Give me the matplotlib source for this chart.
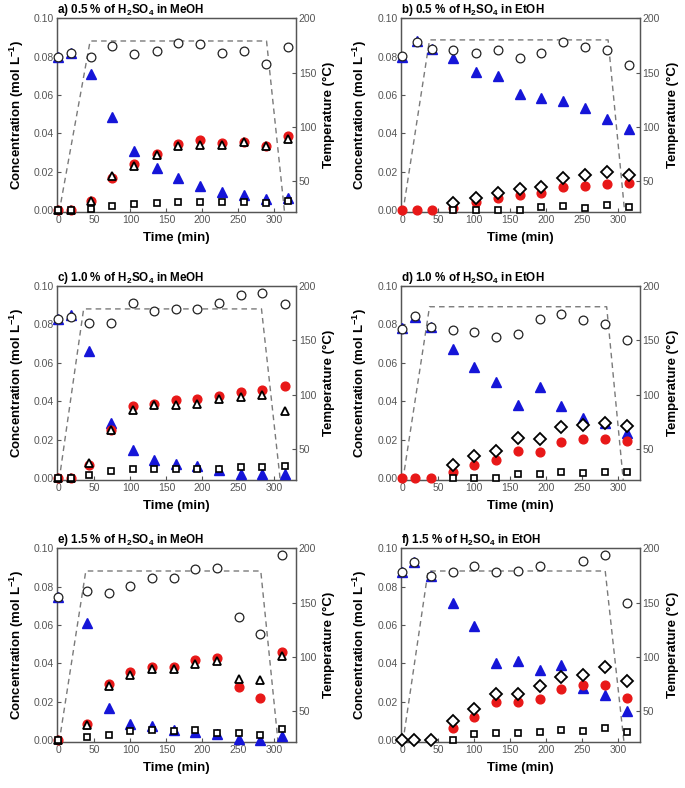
import numpy as np
import matplotlib
matplotlib.use("Agg")
import matplotlib.pyplot as plt

plt.rcParams['font.family'] = ['Liberation Sans', 'DejaVu Sans']

nan = np.nan

# panel a) 0.5 % H2SO4 in MeOH
t_a = [0, 17, 45, 75, 105, 137, 166, 197, 227, 258, 288, 319]
circ_a = [0.0796, 0.0820, 0.0800, 0.0855, 0.0811, 0.0829, 0.0869, 0.0864, 0.0820, 0.0829, 0.0759, 0.0852]
blue_a = [0.0800, 0.0820, 0.0707, 0.0485, 0.0307, 0.0220, 0.0166, 0.0127, 0.0096, 0.0079, 0.0060, 0.0061]
red_a = [0.0, 0.0, 0.0049, 0.0168, 0.0241, 0.0290, 0.0342, 0.0363, 0.0349, 0.0356, 0.0333, 0.0384]
open_a = [0.0, 0.0, 0.0047, 0.0176, 0.0232, 0.0288, 0.0333, 0.0340, 0.0340, 0.0354, 0.0333, 0.0372]
sq_a = [0.0, 0.0, 0.0005, 0.0023, 0.0031, 0.0037, 0.0040, 0.0040, 0.0040, 0.0040, 0.0037, 0.0045]
tt_a = [1, 44, 289, 314]
temp_a = [22, 179, 179, 22]

# panel b) 0.5 % H2SO4 in EtOH
t_b = [0, 20, 41, 71, 102, 133, 163, 193, 224, 254, 285, 315]
circ_b = [0.0803, 0.0878, 0.0838, 0.0833, 0.0816, 0.0833, 0.0790, 0.0816, 0.0873, 0.0852, 0.0833, 0.0755]
blue_b = [0.0800, 0.0880, 0.0840, 0.0790, 0.0720, 0.0700, 0.0607, 0.0583, 0.0569, 0.0530, 0.0473, 0.0420]
red_b = [0.0, 0.0, 0.0, 0.0012, 0.0043, 0.0061, 0.0078, 0.0090, 0.0120, 0.0125, 0.0137, 0.0141]
open_b = [nan, nan, nan, 0.0038, 0.0061, 0.0090, 0.0111, 0.0122, 0.0169, 0.0183, 0.0198, 0.0181]
sq_b = [nan, nan, nan, 0.0, 0.0, 0.0, 0.0002, 0.0017, 0.0020, 0.0012, 0.0026, 0.0017]
tt_b = [1, 38, 286, 309]
temp_b = [22, 180, 180, 22]

# panel c) 1.0 % H2SO4 in MeOH
t_c = [0, 17, 42, 73, 103, 133, 163, 193, 223, 253, 283, 315]
circ_c = [0.0827, 0.0840, 0.0806, 0.0806, 0.0910, 0.0872, 0.0879, 0.0879, 0.0913, 0.0953, 0.0962, 0.0905]
blue_c = [0.0830, 0.0850, 0.0659, 0.0286, 0.0147, 0.0095, 0.0075, 0.0060, 0.0040, 0.0020, 0.0020, 0.0020]
red_c = [0.0, 0.0, 0.0070, 0.0251, 0.0376, 0.0385, 0.0404, 0.0410, 0.0428, 0.0450, 0.0459, 0.0480]
open_c = [0.0, 0.0, 0.0078, 0.0248, 0.0355, 0.0378, 0.0378, 0.0385, 0.0410, 0.0420, 0.0433, 0.0347]
sq_c = [0.0, 0.0, 0.0014, 0.0035, 0.0047, 0.0047, 0.0049, 0.0049, 0.0049, 0.0057, 0.0057, 0.0060]
tt_c = [1, 35, 282, 308]
temp_c = [22, 179, 179, 22]

# panel d) 1.0 % H2SO4 in EtOH
t_d = [0, 18, 40, 71, 100, 130, 161, 191, 221, 251, 282, 312]
circ_d = [0.0778, 0.0843, 0.0787, 0.0769, 0.0760, 0.0734, 0.0748, 0.0827, 0.0853, 0.0822, 0.0801, 0.0717]
blue_d = [0.0780, 0.0840, 0.0787, 0.0673, 0.0580, 0.0498, 0.0381, 0.0472, 0.0376, 0.0315, 0.0288, 0.0236]
red_d = [0.0, 0.0, 0.0, 0.0031, 0.0066, 0.0093, 0.0140, 0.0135, 0.0189, 0.0201, 0.0205, 0.0192]
open_d = [nan, nan, nan, 0.0070, 0.0117, 0.0140, 0.0210, 0.0201, 0.0267, 0.0274, 0.0285, 0.0271]
sq_d = [nan, nan, nan, 0.0, 0.0, 0.0, 0.0023, 0.0023, 0.0030, 0.0026, 0.0030, 0.0030]
tt_d = [1, 38, 284, 307]
temp_d = [22, 181, 181, 22]

# panel e) 1.5 % H2SO4 in MeOH
t_e = [0, 40, 70, 100, 130, 161, 190, 220, 251, 280, 310]
circ_e = [0.0747, 0.0777, 0.0768, 0.0805, 0.0846, 0.0843, 0.0890, 0.0895, 0.0639, 0.0555, 0.0962]
blue_e = [0.0743, 0.0611, 0.0166, 0.0084, 0.0072, 0.0054, 0.0040, 0.0031, 0.0005, 0.0002, 0.0019]
red_e = [0.0, 0.0084, 0.0293, 0.0354, 0.0380, 0.0380, 0.0415, 0.0429, 0.0276, 0.0220, 0.0459]
open_e = [0.0, 0.0080, 0.0284, 0.0340, 0.0368, 0.0368, 0.0394, 0.0412, 0.0319, 0.0314, 0.0436]
sq_e = [0.0, 0.0017, 0.0028, 0.0045, 0.0052, 0.0049, 0.0054, 0.0035, 0.0035, 0.0028, 0.0058]
tt_e = [1, 38, 281, 305]
temp_e = [22, 179, 179, 22]

# panel f) 1.5 % H2SO4 in EtOH
t_f = [0, 17, 40, 70, 100, 130, 161, 191, 221, 251, 281, 312]
circ_f = [0.0878, 0.0930, 0.0857, 0.0878, 0.0906, 0.0874, 0.0879, 0.0906, nan, 0.0935, 0.0962, 0.0712]
blue_f = [0.0878, 0.0930, 0.0857, 0.0712, 0.0594, 0.0402, 0.0414, 0.0367, 0.0393, 0.0271, 0.0236, 0.0154]
red_f = [nan, nan, nan, 0.0065, 0.0122, 0.0196, 0.0198, 0.0215, 0.0267, 0.0285, 0.0285, 0.0219]
open_f = [0.0, 0.0, 0.0, 0.0101, 0.0161, 0.0241, 0.0240, 0.0280, 0.0327, 0.0337, 0.0381, 0.0309]
sq_f = [nan, nan, nan, 0.0, 0.0031, 0.0038, 0.0035, 0.0044, 0.0052, 0.0047, 0.0061, 0.0040]
tt_f = [1, 36, 282, 308]
temp_f = [22, 179, 179, 22]

titles = ["a) 0.5 % of H$_\\mathbf{2}$SO$_\\mathbf{4}$ in MeOH",
          "b) 0.5 % of H$_\\mathbf{2}$SO$_\\mathbf{4}$ in EtOH",
          "c) 1.0 % of H$_\\mathbf{2}$SO$_\\mathbf{4}$ in MeOH",
          "d) 1.0 % of H$_\\mathbf{2}$SO$_\\mathbf{4}$ in EtOH",
          "e) 1.5 % of H$_\\mathbf{2}$SO$_\\mathbf{4}$ in MeOH",
          "f) 1.5 % of H$_\\mathbf{2}$SO$_\\mathbf{4}$ in EtOH"]

panels = [
    (t_a, circ_a, blue_a, red_a, open_a, '^', sq_a, tt_a, temp_a),
    (t_b, circ_b, blue_b, red_b, open_b, 'D', sq_b, tt_b, temp_b),
    (t_c, circ_c, blue_c, red_c, open_c, '^', sq_c, tt_c, temp_c),
    (t_d, circ_d, blue_d, red_d, open_d, 'D', sq_d, tt_d, temp_d),
    (t_e, circ_e, blue_e, red_e, open_e, '^', sq_e, tt_e, temp_e),
    (t_f, circ_f, blue_f, red_f, open_f, 'D', sq_f, tt_f, temp_f),
]

plt.rcParams['mathtext.fontset'] = 'custom'
plt.rcParams['mathtext.rm'] = 'Liberation Sans'
plt.rcParams['mathtext.bf'] = 'Liberation Sans:bold'

fig = plt.figure(figsize=(6.85, 7.88), dpi=100)

lefts = [0.0832, 0.585]
bottoms = [0.731, 0.391, 0.0584]
w = 0.349
h = 0.246
grey = '#555555'

for k, p in enumerate(panels):
    t, circ, blue, red, opn, omark, sq, tt, temp = p
    ax = fig.add_axes([lefts[k % 2], bottoms[k // 2], w, h])
    ax2 = ax.twinx()
    ax.set_zorder(ax2.get_zorder() + 1)
    ax.patch.set_visible(False)

    ax2.plot(tt, temp, color='#7a7a7a', lw=1.0, dashes=(4, 3))
    ax2.set_ylim(22, 200)
    ax2.set_yticks([50, 100, 150, 200])

    ax.plot(t, blue, '^', color='#1515d8', ms=7, mec='#1515d8', clip_on=False, zorder=3)
    ax.plot(t, red, 'o', color='#e81818', ms=6.3, mec='#e81818', clip_on=False, zorder=4)
    if omark == 'D':
        ax.plot(t, opn, 'D', mfc='white', mec='black', ms=6.0, mew=1.3, clip_on=False, zorder=5)
    else:
        ax.plot(t, opn, '^', mfc='white', mec='black', ms=6.3, mew=1.3, clip_on=False, zorder=5)
    ax.plot(t, sq, 's', mfc='white', mec='black', ms=4.8, mew=1.2, clip_on=False, zorder=6)
    ax.plot(t, circ, 'o', mfc='white', mec='#222222', ms=6.3, mew=0.9, clip_on=False, zorder=7)

    ax.set_xlim(-2, 330)
    ax.set_ylim(-0.001, 0.1)
    ax.set_xticks(range(0, 301, 50))
    ax.set_yticks(np.arange(0, 0.101, 0.02))
    ax.yaxis.set_major_formatter(matplotlib.ticker.FormatStrFormatter('%.2f'))

    for a in (ax, ax2):
        a.tick_params(direction='in', length=3, width=0.8, labelsize=7.5,
                      labelcolor=grey, color=grey, pad=2)
        for s in a.spines.values():
            s.set_color(grey)
            s.set_linewidth(0.9)

    ax.set_xlabel("Time (min)", fontsize=9.5, fontweight='bold', labelpad=5)
    ax.set_ylabel("Concentration (mol L$^{\\mathbf{-1}}$)", fontsize=9.5, fontweight='bold', labelpad=6)
    ax2.set_ylabel("Temperature (\u00b0C)", fontsize=9.5, fontweight='bold', labelpad=5)
    ax.set_title(titles[k], loc='left', fontsize=8.4, fontweight='bold', pad=3)

fig.savefig("out.png", dpi=100)
